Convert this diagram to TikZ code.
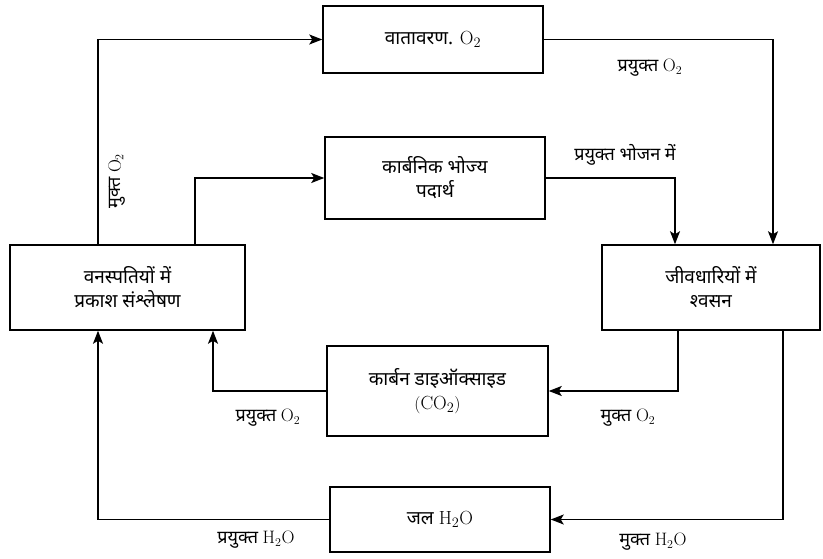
\documentclass[tikz,border=0pt]{standalone}
\usepackage{fontspec}
\newfontfamily\deva[Script=Devanagari]{Noto Sans}
\usetikzlibrary{arrows.meta}
\newcommand{\chem}[2]{\(\mathrm{#1}_{#2}\)}
\newcommand{\htwoo}{\(\mathrm{H}_2\mathrm{O}\)}
\begin{document}
\begin{tikzpicture}[x=1pt,y=-1pt,
  box/.style={draw, line width=1.5pt, rectangle, align=center, inner sep=2pt,
    font=\deva\fontsize{19}{24}\selectfont},
  lbl/.style={font=\deva\fontsize{18}{20}\selectfont, inner sep=1pt},
  flow/.style={line width=1.3pt, -{Stealth[length=13pt,width=10pt,inset=3pt]}}]
\useasboundingbox (0,0) rectangle (823,559);
% the six stages of the cycle
\node[box, minimum width=220pt, minimum height=67pt] (atm) at (433,39.5) {वातावरण. \chem{O}{2}};
\node[box, minimum width=220pt, minimum height=82pt] (food) at (435,178) {कार्बनिक भोज्य\\पदार्थ};
\node[box, minimum width=235pt, minimum height=85pt] (photo) at (127.5,287.5) {वनस्पतियों में\\प्रकाश संश्लेषण};
\node[box, minimum width=218pt, minimum height=85pt] (resp) at (711,287.5) {जीवधारियों में\\श्वसन};
\node[box, minimum width=221pt, minimum height=90pt] (co2) at (437.5,391) {कार्बन डाइऑक्साइड\\\((\mathrm{CO}_2)\)};
\node[box, minimum width=220pt, minimum height=65pt] (water) at (440,519.5) {जल \htwoo};
% flows between the stages
\draw[flow] ([xshift=-29.5pt]photo.north) |- (atm.west);
\draw[flow] ([xshift=67.5pt]photo.north) |- (food.west);
\draw[flow] (atm.east) -| ([xshift=62pt]resp.north);
\draw[flow] (food.east) -| ([xshift=-36pt]resp.north);
\draw[flow] ([xshift=-33pt]resp.south) |- (co2.east);
\draw[flow] (co2.west) -| ([xshift=85.5pt]photo.south);
\draw[flow] ([xshift=72pt]resp.south) |- (water.east);
\draw[flow] (water.west) -| ([xshift=-29.5pt]photo.south);
% flow labels
\node[lbl, rotate=90] (l1) at (117,181) {मुक्त \chem{O}{2}};
\node[lbl] (l2) at (650,68) {प्रयुक्त \chem{O}{2}};
\node[lbl] (l3) at (625,155) {प्रयुक्त भोजन में};
\node[lbl] (l4) at (268,418) {प्रयुक्त \chem{O}{2}};
\node[lbl] (l5) at (628,418) {मुक्त \chem{O}{2}};
\node[lbl] (l6) at (256,540) {प्रयुक्त \htwoo};
\node[lbl] (l7) at (653,542) {मुक्त \htwoo};
\end{tikzpicture}
\end{document}
